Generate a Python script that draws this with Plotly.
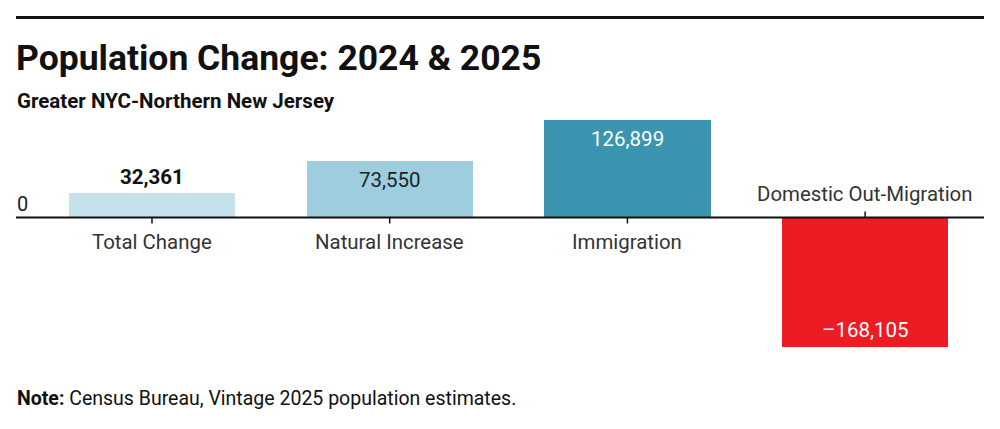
import plotly.graph_objects as go

categories = ["Total Change", "Natural Increase", "Immigration", "Domestic Out-Migration"]
values = [32361, 73550, 126899, -168105]
value_labels = ["32,361", "73,550", "126,899", "\u2013168,105"]
bar_colors = ["#c5e1eb", "#9ecde0", "#3b94b0", "#ed1c24"]

title = "Population Change: 2024 & 2025"
subtitle = "Greater NYC-Northern New Jersey"
note = "<b>Note:</b> Census Bureau, Vintage 2025 population estimates."

# page offset (browser body margin)
OFF = 8
W, H = 1000, 429
# desired on-screen plot area
SX0, SX1, SY0, SY1 = 16, 984, 110, 360
ML = SX0 - OFF
MT = SY0 - OFF
MR = W + OFF - SX1
MB = H + OFF - SY1
PW = SX1 - SX0
PH = SY1 - SY0
FONT = "Roboto"

def px2x(px):
    return (px - SX0) / PW

def py2y(py):
    return (SY1 - py) / PH

fig = go.Figure()
fig.add_trace(go.Bar(
    x=list(range(len(categories))), y=values,
    marker=dict(color=bar_colors, line=dict(width=0)),
    width=0.7, hoverinfo="skip", showlegend=False,
))

annotations = []
label_styles = [
    dict(color="#111111", bold=True, shift=16),
    dict(color="#222222", bold=False, shift=-19),
    dict(color="#ffffff", bold=False, shift=-19),
    dict(color="#ffffff", bold=False, shift=17),
]
for i, (v, t) in enumerate(zip(values, value_labels)):
    st = label_styles[i]
    txt = f"<b>{t}</b>" if st["bold"] else t
    annotations.append(dict(x=i, y=v, xref="x", yref="y", text=txt, showarrow=False,
                            yshift=st["shift"], yanchor="middle",
                            font=dict(family=FONT, size=20.5, color=st["color"])))
for i, c in enumerate(categories):
    neg = values[i] < 0
    annotations.append(dict(x=i, y=0, xref="x", yref="y", text=c, showarrow=False,
                            yshift=24 if neg else -24, yanchor="middle",
                            font=dict(family=FONT, size=20.4, color="#333333")))
annotations.append(dict(x=px2x(15), y=0, xref="paper", yref="y", text="0", showarrow=False,
                        xanchor="left", yanchor="middle", yshift=14,
                        font=dict(family=FONT, size=20, color="#222222")))
annotations.append(dict(x=px2x(14), y=py2y(58), xref="paper", yref="paper", text=f"<b>{title}</b>",
                        showarrow=False, xanchor="left", yanchor="middle",
                        font=dict(family=FONT, size=35.5, color="#111111")))
annotations.append(dict(x=px2x(15), y=py2y(101), xref="paper", yref="paper", text=f"<b>{subtitle}</b>",
                        showarrow=False, xanchor="left", yanchor="middle",
                        font=dict(family=FONT, size=20.5, color="#111111")))
annotations.append(dict(x=px2x(15), y=py2y(398), xref="paper", yref="paper", text=note,
                        showarrow=False, xanchor="left", yanchor="middle",
                        font=dict(family=FONT, size=19.5, color="#111111")))

shapes = []
shapes.append(dict(type="line", xref="paper", yref="paper", x0=px2x(16), x1=px2x(984),
                   y0=py2y(17.5), y1=py2y(17.5), line=dict(color="#111111", width=3)))
shapes.append(dict(type="line", xref="paper", yref="y", x0=0, x1=1, y0=0, y1=0,
                   line=dict(color="#111111", width=2)))
for i, v in enumerate(values):
    shapes.append(dict(type="line", xref="x", yref="y", ysizemode="pixel", yanchor=0,
                       x0=i, x1=i, y0=0, y1=6 if v < 0 else -6,
                       line=dict(color="#111111", width=1.5)))

ZERO_PY = 217.5
SCALE = 0.000768
rng_top = (ZERO_PY - SY0) / SCALE
rng_bot = -(SY1 - ZERO_PY) / SCALE

fig.update_layout(
    width=W, height=H,
    margin=dict(l=ML, r=MR, t=MT, b=MB),
    paper_bgcolor="white", plot_bgcolor="white",
    xaxis=dict(range=[-0.572, 3.5], visible=False, fixedrange=True),
    yaxis=dict(range=[rng_bot, rng_top], visible=False, fixedrange=True),
    annotations=annotations, shapes=shapes,
    bargap=0,
)

fig.write_html("out.html")
